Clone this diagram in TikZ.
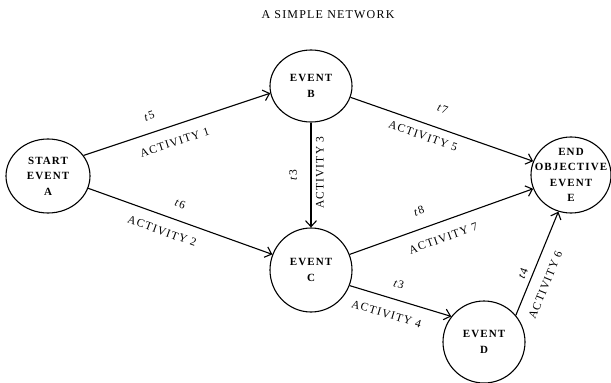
\documentclass[tikz,border=0pt]{standalone}
\usepackage{fontspec}
\setmainfont{Liberation Serif}[LetterSpace=10]
\usetikzlibrary{shapes.geometric,arrows.meta,calc}
\begin{document}
\begin{tikzpicture}[x=1pt,y=-1pt,
  ev/.style={ellipse, draw, line width=1.1pt, inner sep=0pt},
  evtext/.style={font=\fontsize{11}{15.5}\selectfont\bfseries, align=center, inner sep=0pt},
  lab/.style={font=\fontsize{11.5}{13}\selectfont, inner sep=0pt, sloped},
  vlab/.style={font=\fontsize{11.5}{13}\selectfont, inner sep=0pt, rotate=90},
  arr/.style={line width=1.1pt, -{Straight Barb[length=6pt,width=11pt]}}
]
\useasboundingbox (0,0) rectangle (611,383);
\node[font=\fontsize{12}{14}\selectfont] (title) at (328,15) {A SIMPLE NETWORK};

\node[ev, minimum width=84pt, minimum height=74pt, label={[evtext]center:{START\\EVENT\\A}}] (A) at (48,176) {};
\node[ev, minimum width=82pt, minimum height=72pt, label={[evtext]center:{EVENT\\B}}] (B) at (311,86) {};
\node[ev, minimum width=82pt, minimum height=84pt, label={[evtext]center:{EVENT\\C}}] (C) at (311,270) {};
\node[ev, minimum width=82pt, minimum height=82pt, label={[evtext]center:{EVENT\\D}}] (D) at (484,342) {};
\node[ev, minimum width=80pt, minimum height=76pt, label={[evtext]center:{END\\OBJECTIVE\\EVENT\\E}}] (E) at (571,175) {};

\draw[arr] (A.30) -- node[lab, pos=0.38, above=12pt] (t5) {\textit{t}5}
  node[lab, pos=0.46, below=12pt] (a1) {ACTIVITY 1} (B.190);
\draw[arr] (A.-17) -- node[lab, pos=0.47, above=12pt] (t6) {\textit{t}6}
  node[lab, pos=0.43, below=11pt] (a2) {ACTIVITY 2} (C.158);
\draw[arr] (B.south) -- (C.north);
\node[vlab] (t3a) at ($(B.south)!0.5!(C.north)+(-18,0)$) {\textit{t}3};
\node[vlab] (a3) at ($(B.south)!0.48!(C.north)+(9,0)$) {ACTIVITY 3};
\draw[arr] (B.-16) -- node[lab, pos=0.47, above=15pt] (t7) {\textit{t}7}
  node[lab, pos=0.42, below=8pt] (a5) {ACTIVITY 5} (E.160);
\draw[arr] (C.22) -- node[lab, pos=0.41, above=13pt] (t8) {\textit{t}8}
  node[lab, pos=0.48, below=12pt] (a7) {ACTIVITY 7} (E.200);
\draw[arr] (C.-22) -- node[lab, pos=0.44, above=11pt] (t3b) {\textit{t}3}
  node[lab, pos=0.41, below=12pt] (a4) {ACTIVITY 4} (D.142);
\draw[arr] (D.40) -- node[lab, pos=0.37, above=5pt] (t4) {\textit{t}4}
  node[lab, pos=0.35, below=11.5pt] (a6) {ACTIVITY 6} (E.251);
\end{tikzpicture}
\end{document}
